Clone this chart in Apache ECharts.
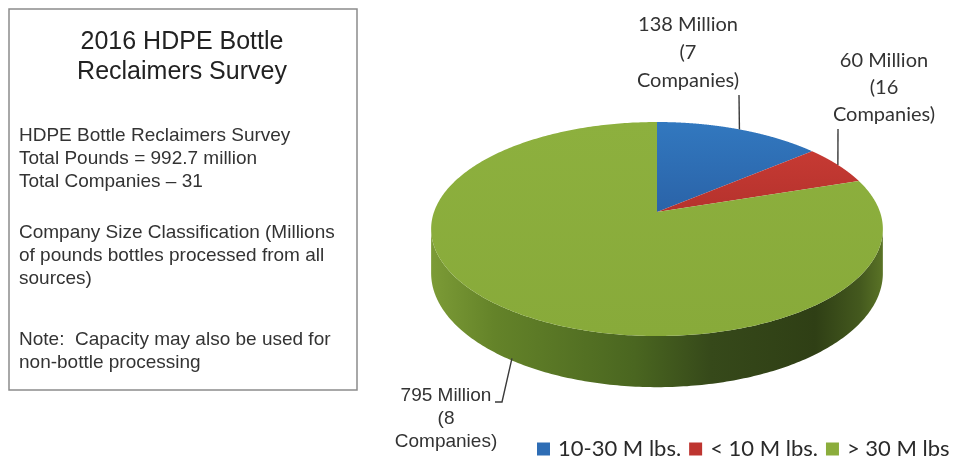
<!DOCTYPE html>
<html><head><meta charset="utf-8">
<style>html,body{margin:0;padding:0;background:#fff}#c{width:955px;height:460px;filter:blur(0.45px)}</style>
<script src="https://cdn.jsdelivr.net/npm/echarts@6/dist/echarts.min.js"></script>
</head><body><div id="c"></div>
<script>
const categories = ['10-30 M lbs.', '< 10 M lbs.', '> 30 M lbs'];
const pounds = [138, 60, 795];
const companies = [7, 16, 8];
const colors = ['#2E6DB5', '#BE3530', '#8BAD3C'];
const titleLines = '2016 HDPE Bottle\nReclaimers Survey';
const summaryLines = 'HDPE Bottle Reclaimers Survey\nTotal Pounds = 992.7 million\nTotal Companies \u2013 31';
const classLines = 'Company Size Classification (Millions\nof pounds bottles processed from all\nsources)';
const noteLines = 'Note:  Capacity may also be used for\nnon-bottle processing';

const total = pounds.reduce((a, b) => a + b, 0);
const CX = 657, CY = 212, POLAR_R = 100;
const A = 104.3, K = 0.159, B = 223, DEPTH = 43;
const labelLayout = [
  {x: 688, y: 53, font: '20px Lato', lh: 28, line: [[739, 95]], dx: 0},
  {x: 884, y: 88, font: '20px Lato', lh: 27, line: [[838, 129]], dx: 0},
  {x: 446, y: 419, font: '19px "Liberation Sans"', lh: 23, line: [[495, 402], [502, 402]], drop: true, dx: 5}
];
const gradientTop = [
  ['#3278BF', '#2A63A8'], ['#C63A33', '#B5322D'], ['#8DB03E', '#88AA3A']
];

function project(p, depth) {
  const s = (p[0] - CX) / POLAR_R, t = -(p[1] - CY) / POLAR_R, w = 1 + K * t;
  return [CX + B * s / w, CY - A * t / w + (depth ? DEPTH / w : 0)];
}

function render(i) {
  return function (params, api) {
    const v0 = pounds.slice(0, i).reduce((a, b) => a + b, 0);
    const v1 = v0 + api.value(0);
    const rim = [], wallTop = [], wallBot = [];
    for (let n = 0; n <= 360; n++) {
      const v = v0 + (v1 - v0) * n / 360;
      const c = api.coord([1, v]);
      rim.push(project(c, false));
      if (-(c[1] - CY) / POLAR_R <= -K + 0.001) {
        wallTop.push(project(c, false));
        wallBot.push(project(c, true));
      }
    }
    const kids = [];
    if (wallTop.length) {
      kids.push({
        type: 'polygon', z2: 1,
        shape: {points: wallTop.concat(wallBot.slice().reverse())},
        style: {fill: new echarts.graphic.LinearGradient(0, 0, 1, 0, [
          {offset: 0, color: '#7C9B36'}, {offset: 0.14, color: '#648329'},
          {offset: 0.45, color: '#4A6620'}, {offset: 0.62, color: '#36491A'},
          {offset: 0.85, color: '#2F3F15'}, {offset: 0.95, color: '#44591E'},
          {offset: 1, color: '#5A7326'}
        ])}
      });
    }
    kids.push({
      type: 'polygon', z2: 2,
      shape: {points: [[CX, CY]].concat(rim)},
      style: {fill: new echarts.graphic.LinearGradient(0, 0, 0, 1, [
        {offset: 0, color: gradientTop[i][0]}, {offset: 1, color: gradientTop[i][1]}
      ])}
    });
    const L = labelLayout[i];
    const mid = api.coord([1, (v0 + v1) / 2]);
    const anchor = project(mid, !!L.drop);
    anchor[0] += L.dx;
    kids.push({
      type: 'polyline', z2: 3,
      shape: {points: L.line.concat([anchor])},
      style: {stroke: '#3A3A3A', lineWidth: 1.4, fill: null}
    });
    kids.push({
      type: 'text', z2: 3, x: L.x, y: L.y,
      style: {
        text: api.value(0) + ' Million\n(' + companies[i] + '\nCompanies)',
        font: L.font, lineHeight: L.lh, fill: '#333', align: 'center', verticalAlign: 'middle'
      }
    });
    return {type: 'group', children: kids};
  };
}

const panelText = (text, y) => ({
  type: 'text', x: 19, y: y,
  style: {text: text, font: '19px "Liberation Sans"', lineHeight: 23, fill: '#333', align: 'left', verticalAlign: 'top'}
});

const chart = echarts.init(document.getElementById('c'), null, {renderer: 'canvas'});
chart.setOption({
  animation: false,
  backgroundColor: '#fff',
  polar: {center: [CX, CY], radius: POLAR_R},
  angleAxis: {type: 'value', min: 0, max: total, startAngle: 90, show: false},
  radiusAxis: {type: 'value', min: 0, max: 1, show: false},
  legend: {
    data: categories, left: 537, top: 438, padding: 0, itemWidth: 13, itemHeight: 13, itemGap: 8,
    icon: 'rect', selectedMode: false,
    textStyle: {fontFamily: 'Lato', fontSize: 22, color: '#2A2A2A', padding: [0, 0, 0, 3]}
  },
  graphic: {elements: [
    {type: 'rect', shape: {x: 9, y: 9, width: 348, height: 381}, style: {fill: '#fff', stroke: '#8C8C8C', lineWidth: 1.5}},
    {type: 'text', x: 182, y: 57, style: {text: titleLines, font: '25px "Liberation Sans"', lineHeight: 30, fill: '#222', align: 'center', verticalAlign: 'middle'}},
    panelText(summaryLines, 124),
    panelText(classLines, 221),
    panelText(noteLines, 328)
  ]},
  series: categories.map((name, i) => ({
    type: 'custom', name: name, coordinateSystem: 'polar',
    itemStyle: {color: colors[i]},
    data: [[pounds[i]]],
    renderItem: render(i),
    silent: true
  }))
});
</script></body></html>
